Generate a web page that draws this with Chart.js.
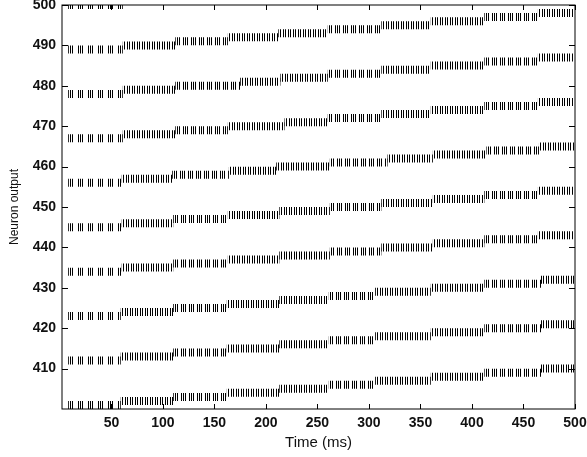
<!DOCTYPE html>
<html>
<head>
<meta charset="utf-8">
<script src="https://cdn.jsdelivr.net/npm/chart.js@4.4.1/dist/chart.umd.min.js"></script>
<style>
  html, body { margin: 0; padding: 0; background: #fff; }
</style>
</head>
<body>
<canvas id="raster" width="587" height="457"></canvas>
<script>
// first neuron of each group that fires at the start of the run
const groupStart = [500, 489, 478, 467, 456, 445, 434, 423, 412, 401, 390];

// times (ms) where each group moves up to the next neuron
const groupSteps = [
    [61, 112, 163, 212, 260, 312, 360, 412, 464],
    [61, 112, 163, 212, 260, 312, 360, 412, 464],
    [61, 112, 175, 214, 260, 312, 360, 412, 464],
    [61, 112, 163, 218, 260, 312, 360, 412, 464],
    [60, 109, 164, 210, 262, 318, 362, 414, 465],
    [60, 110, 163, 213, 262, 312, 362, 412, 464],
    [60, 110, 163, 213, 262, 312, 362, 412, 464],
    [59, 110, 162, 213, 261, 306, 360, 412, 467],
    [59, 110, 162, 213, 261, 306, 360, 412, 467],
    [59, 110, 162, 213, 261, 306, 360, 412, 467],
    [59, 110, 162, 213, 261, 306, 360, 412, 467]
];

const runStart = 8;
const runEnd = 499;

const xTicks = [50, 100, 150, 200, 250, 300, 350, 400, 450, 500];
const yTicks = [410, 420, 430, 440, 450, 460, 470, 480, 490, 500];

const fontFamily = "'Liberation Sans', Arial, sans-serif";
const tickFont = { family: fontFamily, size: 14, weight: 'bold' };

// keep the 1px spike ticks on whole pixels so they stay black
function snapDash(ctx) {
    const px = ctx.chart.scales.x.getPixelForValue(ctx.dataset.data[0].x);
    return px - Math.floor(px);
}

// one dataset per firing run: a thick dashed line reads as a row of spike ticks
const datasets = [];
groupStart.forEach((base, g) => {
    const steps = groupSteps[g];
    for (let k = 0; k <= steps.length; k++) {
        const t0 = k === 0 ? runStart : steps[k - 1];
        const t1 = k === steps.length ? runEnd : steps[k];
        datasets.push({
            data: [{ x: t0, y: base + k }, { x: t1, y: base + k }],
            showLine: true,
            borderColor: '#000',
            borderWidth: 8,
            borderCapStyle: 'butt',
            borderDash: k === 0 ? [1, 1, 1, 1, 1, 5] : (k % 3 === 2 ? [1, 1, 1, 1, 1, 3] : [1, 1, 1, 2]),
            borderDashOffset: snapDash,
            pointRadius: 0,
            clip: 0
        });
    }
});

// box round the plot with inward tick marks on all four sides
const frame = {
    id: 'frame',
    afterDatasetsDraw(chart) {
        const { ctx, chartArea: a, scales: { x, y } } = chart;
        ctx.save();
        ctx.strokeStyle = '#000';
        ctx.lineWidth = 1;
        ctx.strokeRect(a.left, a.top, a.right - a.left, a.bottom - a.top);
        ctx.beginPath();
        xTicks.forEach(v => {
            const px = Math.round(x.getPixelForValue(v)) + 0.5;
            ctx.moveTo(px, a.bottom); ctx.lineTo(px, a.bottom - 5);
            ctx.moveTo(px, a.top); ctx.lineTo(px, a.top + 5);
        });
        yTicks.forEach(v => {
            const py = Math.round(y.getPixelForValue(v)) + 0.5;
            ctx.moveTo(a.left, py); ctx.lineTo(a.left + 6, py);
            ctx.moveTo(a.right, py); ctx.lineTo(a.right - 6, py);
        });
        ctx.stroke();
        ctx.restore();
    }
};

new Chart(document.getElementById('raster'), {
    type: 'scatter',
    data: { datasets },
    options: {
        responsive: false,
        animation: false,
        devicePixelRatio: 1,
        layout: { padding: 0 },
        plugins: { legend: { display: false }, tooltip: { enabled: false } },
        scales: {
            x: {
                type: 'linear',
                min: 2,
                max: 500,
                afterBuildTicks: s => { s.ticks = xTicks.map(v => ({ value: v })); },
                afterFit: s => { s.height = 48; s.paddingLeft = 0; s.paddingRight = 12; },
                grid: { display: false, drawTicks: false },
                border: { display: false },
                ticks: { font: tickFont, color: '#111', padding: 6, maxRotation: 0 },
                title: {
                    display: true,
                    text: 'Time (ms)',
                    color: '#111',
                    font: { family: fontFamily, size: 15 },
                    padding: { top: 0, bottom: 5 }
                }
            },
            y: {
                type: 'linear',
                min: 400,
                max: 500,
                afterBuildTicks: s => { s.ticks = yTicks.map(v => ({ value: v })); },
                afterFit: s => { s.width = 62; s.paddingTop = 5; s.paddingBottom = 0; },
                grid: { display: false, drawTicks: false },
                border: { display: false },
                ticks: { font: tickFont, color: '#111', padding: 6 },
                title: {
                    display: true,
                    text: 'Neuron output',
                    color: '#111',
                    font: { family: fontFamily, size: 12 },
                    padding: { top: 7, bottom: 0 }
                }
            }
        }
    },
    plugins: [frame]
});
</script>
</body>
</html>
